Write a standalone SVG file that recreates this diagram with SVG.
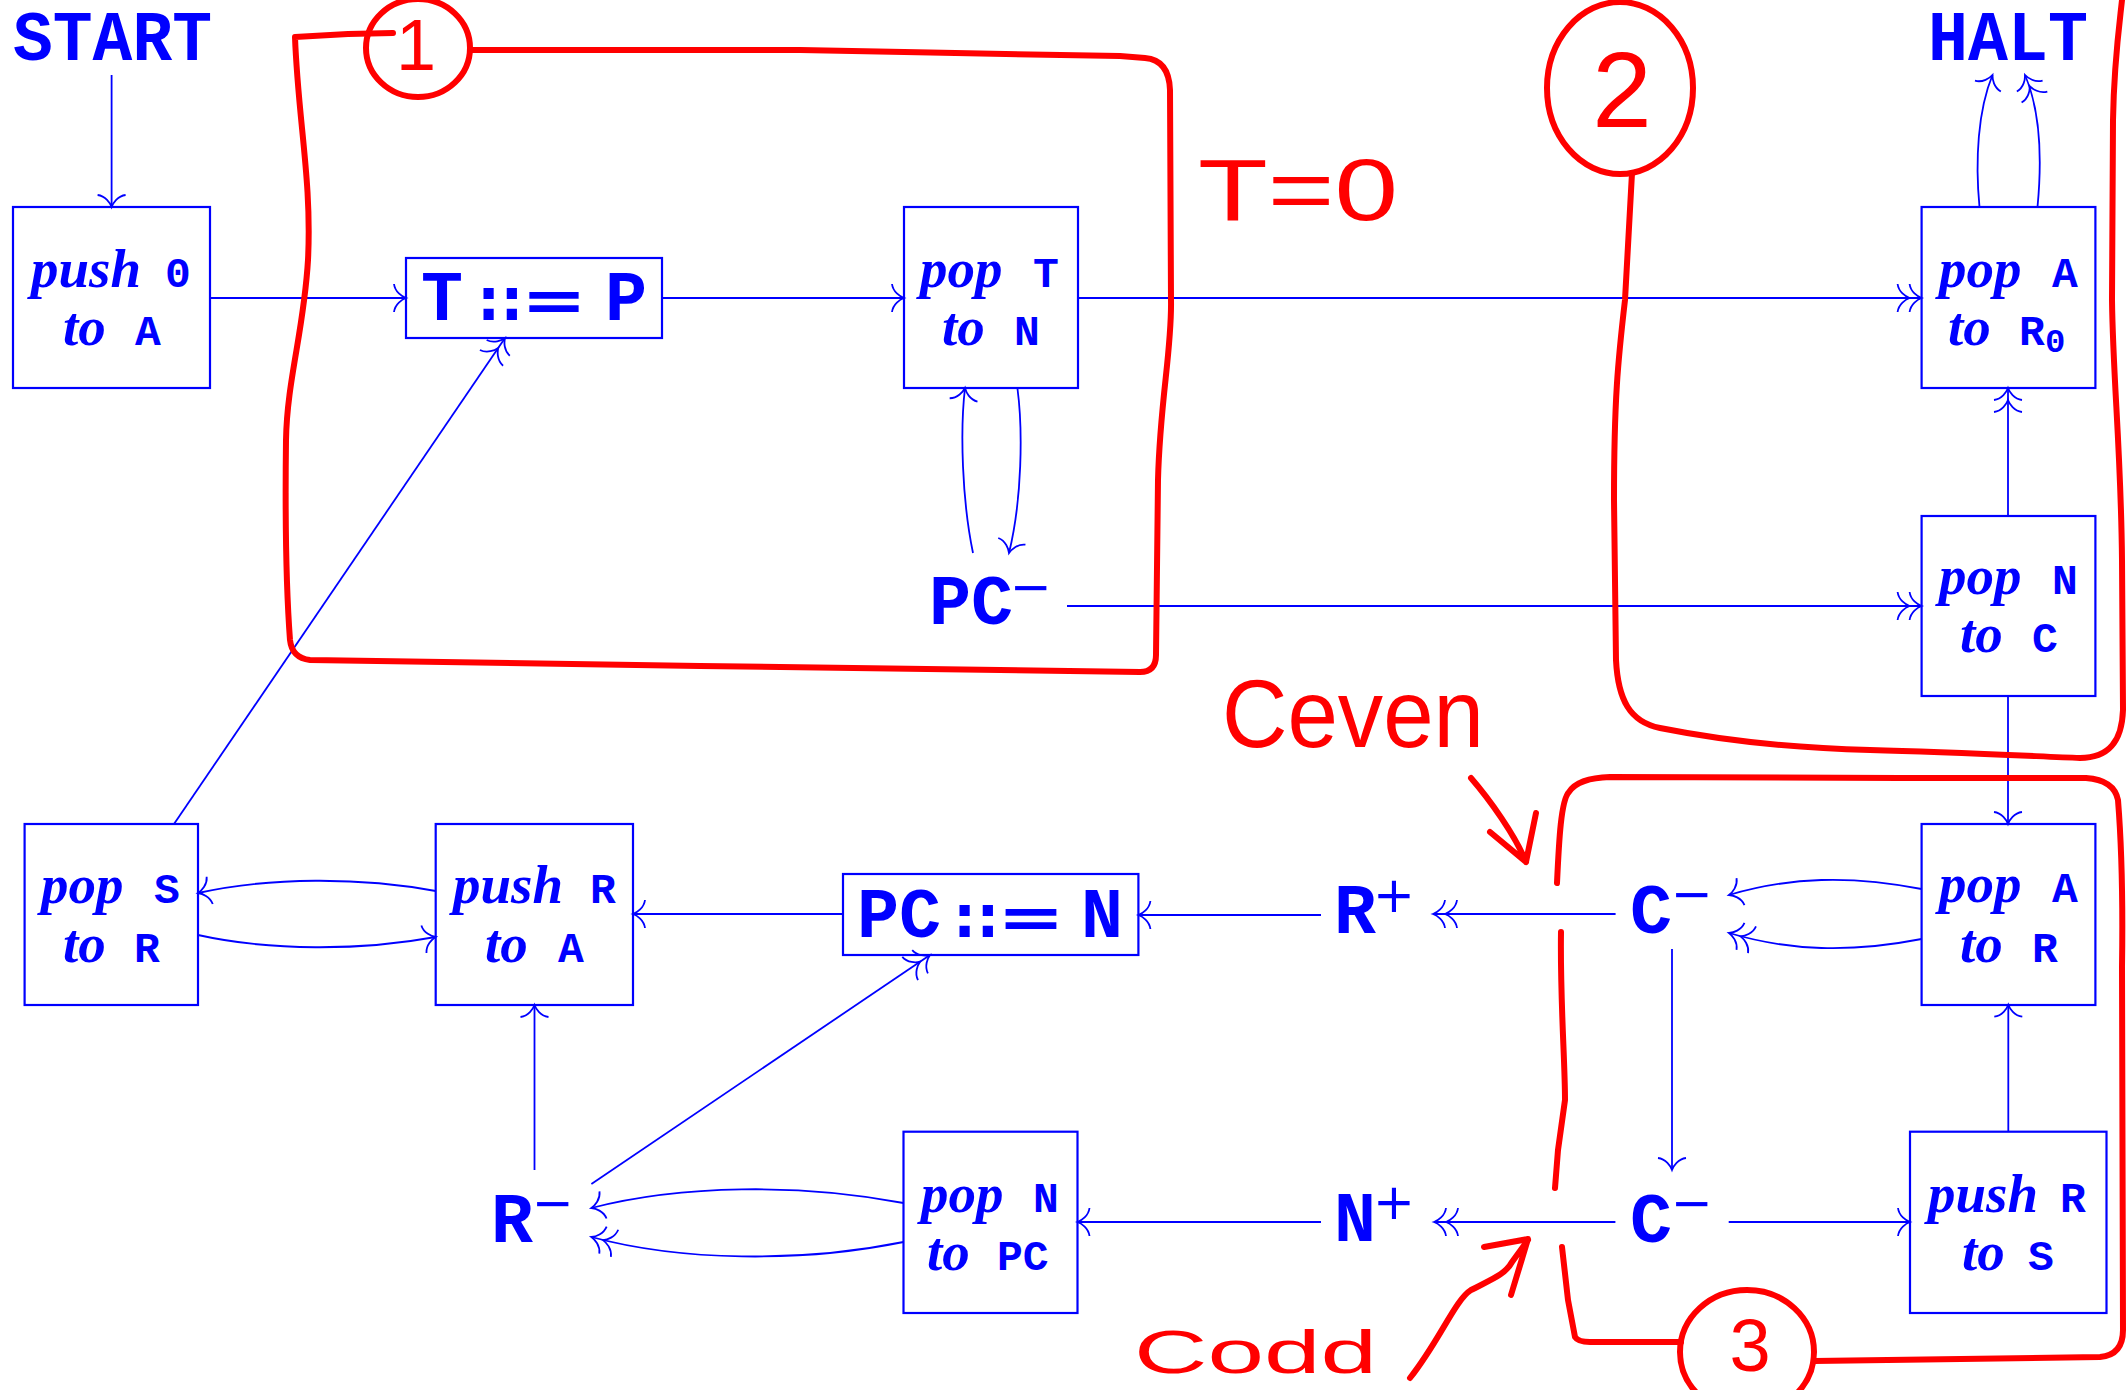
<svg xmlns="http://www.w3.org/2000/svg" width="2127" height="1390" viewBox="0 0 2127 1390">
<style>
.b{fill:none;stroke:#00f;stroke-width:2.2}
.c{fill:none;stroke:#00f;stroke-width:1.8}
.s{marker-end:url(#a1)}
.d{marker-end:url(#a2)}
.tt{font-family:"Liberation Mono",monospace;font-weight:bold;fill:#00f}
.big{font-size:70px}
.sm{font-size:43px}
.sub{font-size:34px}
.it{font-family:"Liberation Serif",serif;font-style:italic;font-weight:bold;fill:#00f;font-size:55px}
.sym{font-family:"DejaVu Sans",sans-serif;font-weight:bold;fill:#00f;font-size:58px}
.sup{font-family:"DejaVu Sans",sans-serif;fill:#00f;font-size:50px}
.r{fill:none;stroke:#f00;stroke-width:6;stroke-linecap:round;stroke-linejoin:round}
.rt{font-family:"Liberation Sans",sans-serif;fill:#f00}
</style>
<defs>
<marker id="a1" markerUnits="userSpaceOnUse" orient="auto" viewBox="-16 -16 20 32" markerWidth="20" markerHeight="32" refX="0" refY="0">
<path d="M-12,-14 C-11,-6 -4,-1.5 0,0 C-4,1.5 -11,6 -12,14" fill="none" stroke="#00f" stroke-width="1.8"/>
</marker>
<marker id="a2" markerUnits="userSpaceOnUse" orient="auto" viewBox="-28 -16 32 32" markerWidth="32" markerHeight="32" refX="0" refY="0">
<path d="M-12,-14 C-11,-6 -4,-1.5 0,0 C-4,1.5 -11,6 -12,14 M-24,-14 C-23,-6 -16,-1.5 -12,0 C-16,1.5 -23,6 -24,14" fill="none" stroke="#00f" stroke-width="1.8"/>
</marker>
</defs>

<g id="connectors">
<path class="c s" d="M111.6,75 L111.6,207"/>
<path class="c s" d="M210,298 L406,298"/>
<path class="c s" d="M662,298 L904,298"/>
<path class="c d" d="M1078,298 L1921.6,298"/>
<path class="c s" d="M1979.5,207 C1975,160 1978,110 1992.5,75"/>
<path class="c d" d="M2037.5,207 C2042,160 2040,110 2025,75"/>
<path class="c d" d="M2008,516 L2008,388"/>
<path class="c d" d="M1067,606 L1921.6,606"/>
<path class="c s" d="M973,553 C962,500 960,430 965,388"/>
<path class="c s" d="M1017.4,388 C1023,430 1022,500 1009,553"/>
<path class="c s" d="M1921.6,889 C1850,875 1790,877 1729,895"/>
<path class="c d" d="M1921.6,939 C1850,953 1790,951 1729,933"/>
<path class="c s" d="M2008,696 L2008,824"/>
<path class="c d" d="M1615.6,914 L1433,914"/>
<path class="c s" d="M1321,915 L1138.4,915"/>
<path class="c s" d="M843,914 L633,914"/>
<path class="c s" d="M435.7,891 C360,877 270,877 198,893"/>
<path class="c s" d="M198,935 C270,951 360,951 435.7,937"/>
<path class="c d" d="M174,824 L505,338"/>
<path class="c s" d="M534.5,1170 L534.5,1005"/>
<path class="c d" d="M591.4,1184 L930,955"/>
<path class="c s" d="M903.5,1203 C800,1183 680,1185 591.4,1208"/>
<path class="c d" d="M903.5,1242 C800,1263 680,1261 591.4,1237"/>
<path class="c s" d="M1321,1222 L1077.5,1222"/>
<path class="c d" d="M1615.4,1222 L1434,1222"/>
<path class="c s" d="M1672,949 L1672,1170"/>
<path class="c s" d="M1728.7,1222 L1910,1222"/>
<path class="c s" d="M2008.3,1131.7 L2008.3,1004.7"/>
</g>

<g id="start"><text class="tt big" x="13" y="60" textLength="199" lengthAdjust="spacingAndGlyphs">START</text></g>
<g id="halt"><text class="tt big" x="1928" y="60" textLength="160" lengthAdjust="spacingAndGlyphs">HALT</text></g>

<g id="push0A"><rect class="b" x="13" y="207" width="197" height="181"/>
<text y="287"><tspan class="it" x="31">push</tspan><tspan class="tt sm" x="165">0</tspan></text>
<text y="345"><tspan class="it" x="63">to</tspan><tspan class="tt sm" x="135">A</tspan></text></g>

<g id="TP"><rect class="b" x="406" y="258" width="256" height="80"/>
<text y="320"><tspan class="tt big" x="421">T</tspan><tspan class="sym" x="477">::</tspan><tspan class="sym" x="521" textLength="66" lengthAdjust="spacingAndGlyphs">=</tspan><tspan class="tt big" x="605">P</tspan></text></g>

<g id="popTN"><rect class="b" x="904" y="207" width="174" height="181"/>
<text y="287"><tspan class="it" x="920">pop</tspan><tspan class="tt sm" x="1033">T</tspan></text>
<text y="345"><tspan class="it" x="942">to</tspan><tspan class="tt sm" x="1014">N</tspan></text></g>

<g id="popAR0"><rect class="b" x="1921.6" y="207" width="173.8" height="181"/>
<text y="287"><tspan class="it" x="1939">pop</tspan><tspan class="tt sm" x="2052">A</tspan></text>
<text y="345"><tspan class="it" x="1948">to</tspan><tspan class="tt sm" x="2019">R</tspan><tspan class="tt sub" x="2045" y="352">0</tspan></text></g>

<g id="pcminus"><text y="624"><tspan class="tt big" x="929">PC</tspan><tspan class="sup" x="1010" y="604">−</tspan></text></g>

<g id="popNC"><rect class="b" x="1921.6" y="516" width="173.8" height="180"/>
<text y="594"><tspan class="it" x="1939">pop</tspan><tspan class="tt sm" x="2052">N</tspan></text>
<text y="652"><tspan class="it" x="1960">to</tspan><tspan class="tt sm" x="2032">C</tspan></text></g>

<g id="popSR"><rect class="b" x="24.6" y="824" width="173.4" height="181"/>
<text y="903"><tspan class="it" x="41">pop</tspan><tspan class="tt sm" x="154">S</tspan></text>
<text y="962"><tspan class="it" x="63">to</tspan><tspan class="tt sm" x="134">R</tspan></text></g>

<g id="pushRA"><rect class="b" x="435.7" y="824" width="197.3" height="181"/>
<text y="903"><tspan class="it" x="453">push</tspan><tspan class="tt sm" x="590">R</tspan></text>
<text y="962"><tspan class="it" x="485">to</tspan><tspan class="tt sm" x="558">A</tspan></text></g>

<g id="PCN"><rect class="b" x="843" y="874" width="295.4" height="81"/>
<text y="937"><tspan class="tt big" x="857">PC</tspan><tspan class="sym" x="953">::</tspan><tspan class="sym" x="997" textLength="68" lengthAdjust="spacingAndGlyphs">=</tspan><tspan class="tt big" x="1081">N</tspan></text></g>

<g id="rplus"><text y="933"><tspan class="tt big" x="1334">R</tspan><tspan class="sup" x="1373" y="912">+</tspan></text></g>

<g id="cminus1"><text y="933"><tspan class="tt big" x="1630">C</tspan><tspan class="sup" x="1671" y="911">−</tspan></text></g>

<g id="popAR"><rect class="b" x="1921.6" y="824" width="173.8" height="181"/>
<text y="902"><tspan class="it" x="1939">pop</tspan><tspan class="tt sm" x="2052">A</tspan></text>
<text y="962"><tspan class="it" x="1960">to</tspan><tspan class="tt sm" x="2032">R</tspan></text></g>

<g id="rminus"><text y="1242"><tspan class="tt big" x="491">R</tspan><tspan class="sup" x="532" y="1220">−</tspan></text></g>

<g id="popNPC"><rect class="b" x="903.5" y="1131.7" width="174" height="181.3"/>
<text y="1212"><tspan class="it" x="921">pop</tspan><tspan class="tt sm" x="1033">N</tspan></text>
<text y="1270"><tspan class="it" x="927">to</tspan><tspan class="tt sm" x="997">PC</tspan></text></g>

<g id="nplus"><text y="1241"><tspan class="tt big" x="1334">N</tspan><tspan class="sup" x="1373" y="1219">+</tspan></text></g>

<g id="cminus2"><text y="1242"><tspan class="tt big" x="1630">C</tspan><tspan class="sup" x="1671" y="1220">−</tspan></text></g>

<g id="pushRS"><rect class="b" x="1910" y="1131.7" width="196.5" height="181.3"/>
<text y="1212"><tspan class="it" x="1928">push</tspan><tspan class="tt sm" x="2060">R</tspan></text>
<text y="1270"><tspan class="it" x="1962">to</tspan><tspan class="tt sm" x="2028">S</tspan></text></g>

<g id="annotations">
<path class="r" d="M393,33 L348,34 L295,37 C298,120 312,180 308,260 C304,330 287,380 286,440 C285,520 287,600 290,640 Q292,658 310,660 L700,666 L1140,672 Q1156,672 1156,655 L1158,480 C1160,400 1172,350 1171,300 L1170,90 Q1169,60 1145,58 L1120,56 C1050,55 900,52 800,50 L471,50"/>
<ellipse class="r" cx="418" cy="48" rx="52" ry="49"/>
<text class="rt" x="416" y="70" font-size="72" text-anchor="middle">1</text>
<text class="rt" x="1198" y="220" font-size="88" textLength="200" lengthAdjust="spacingAndGlyphs">T=0</text>
<ellipse class="r" cx="1620" cy="88" rx="73" ry="86"/>
<text class="rt" x="1622" y="127" font-size="107" text-anchor="middle">2</text>
<path class="r" d="M1632,173 L1625,300 C1618,360 1614,400 1614,500 L1616,660 C1618,700 1630,722 1660,728 C1720,740 1790,748 1870,750 C1950,752 2030,756 2080,758 C2110,758 2122,740 2123,710 L2122,560 C2121,450 2113,380 2112,300 L2113,120 C2114,60 2120,20 2122,0"/>
<text class="rt" x="1222" y="747" font-size="96" textLength="262" lengthAdjust="spacingAndGlyphs">Ceven</text>
<path class="r" d="M1471,778 C1490,800 1515,835 1526,862 M1490,832 L1526,862 L1536,813"/>
<path class="r" d="M1557,883 C1559,840 1561,800 1569,792 Q1578,778 1610,777 L1900,778 L2086,778 Q2114,780 2118,800 C2122,850 2123,900 2122,967 L2123,1330 Q2123,1355 2100,1357 L1814,1361"/>
<path class="r" d="M1561,932 C1560,1000 1565,1060 1565,1100 L1558,1150 L1555,1188"/>
<path class="r" d="M1562,1247 L1568,1300 L1575,1337 Q1578,1342 1590,1342 L1681,1342"/>
<ellipse class="r" cx="1747" cy="1352" rx="67" ry="62"/>
<text class="rt" x="1750" y="1371" font-size="74" text-anchor="middle">3</text>
<text class="rt" x="1134" y="1373" font-size="62" textLength="243" lengthAdjust="spacingAndGlyphs">Codd</text>
<path class="r" d="M1410,1378 C1440,1340 1455,1300 1471,1290 C1490,1280 1505,1275 1512,1262 L1528,1240 M1484,1247 L1528,1239 L1511,1295"/>
</g>
</svg>
